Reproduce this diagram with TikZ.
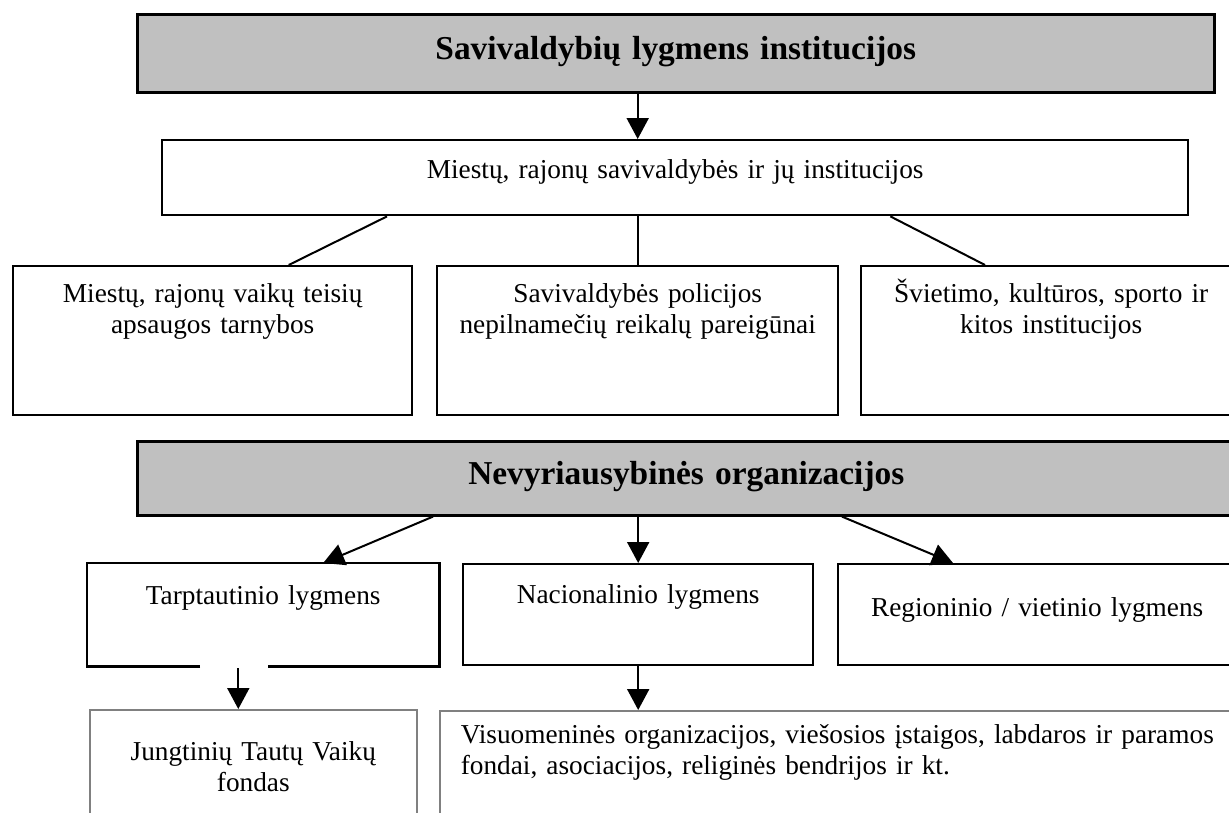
\documentclass[tikz,border=0pt]{standalone}
\usepackage{fontspec}
\setmainfont{Liberation Serif}
\usepackage{tikz}
\usetikzlibrary{arrows.meta,calc}

\definecolor{hdrgray}{RGB}{192,192,192}
\definecolor{lowline}{RGB}{128,128,128}
\newcommand{\boxfont}{\fontsize{27.3}{31}\selectfont}
\newcommand{\headfont}{\fontsize{33.4}{38}\selectfont\bfseries}

\tikzset{
  box/.style={draw, line width=2.4pt, inner sep=0pt, anchor=north west, align=center, font=\boxfont},
  headbox/.style={box, line width=2.6pt, fill=hdrgray, font=\headfont},
  lowbox/.style={box, draw=lowline, line width=1.6pt},
  conn/.style={line width=2pt},
  arr/.style={conn, -{Triangle[length=21pt,width=22pt]}}
}

\begin{document}
\begin{tikzpicture}[x=1pt,y=-1pt]
\useasboundingbox (0,0) rectangle (1229,812);
\clip (0,0) rectangle (1229,812);

% Municipal level
\node[headbox, text width=1077pt, text height=45pt, text depth=33pt] (sav) at (136,13) {Savivaldybių lygmens institucijos};
\node[box, text width=1026pt, text height=38pt, text depth=37pt] (mies) at (161,139) {Miestų, rajonų savivaldybės ir jų institucijos};

\node[box, text width=399pt, text height=36pt, text depth=113pt] (vtt) at (12,265) {Miestų, rajonų vaikų teisių\\apsaugos tarnybos};
\node[box, text width=401pt, text height=36pt, text depth=113pt] (pol) at (436,265) {Savivaldybės policijos\\nepilnamečių reikalų pareigūnai};
\node[box, text width=380pt, text height=36pt, text depth=113pt] (svi) at (860,265) {Švietimo, kultūros, sporto ir\\kitos institucijos};

% Non-governmental level
\node[headbox, text width=1098pt, text height=43pt, text depth=31pt] (nev) at (136,440) {Nevyriausybinės organizacijos};

\node[box, draw=none, text width=350pt, text height=40pt, text depth=61pt] (tarp) at (87,563) {Tarptautinio lygmens};
\node[box, text width=350pt, text height=39pt, text depth=62pt] (nac) at (462,563) {Nacionalinio lygmens};
\node[box, text width=398pt, text height=52pt, text depth=49pt] (reg) at (837,563) {Regioninio / vietinio lygmens};

\node[lowbox, text width=327pt, text height=51pt, text depth=90pt] (jtv) at (89,709) {Jungtinių Tautų Vaikų\\fondas};
\node[lowbox, align=left, inner xsep=21pt, text width=780pt, text height=33pt, text depth=107pt] (vis) at (439,710) {Visuomeninės organizacijos, viešosios įstaigos, labdaros ir paramos\\fondai, asociacijos, religinės bendrijos ir kt.};

% outline of tarp with the gap in its lower edge
\draw[line width=2.4pt] ($(tarp.south west)+(113,0)$) -| (tarp.north west) -| (tarp.south east) -- ++(-171,0);

% Connectors
\draw[arr] (sav.south -| pol.north) -- (mies.north -| pol.north);
\draw[conn] ($(mies.south west)+(226,0)$) -- ($(vtt.north)+(76,0)$);
\draw[conn] (mies.south -| pol.north) -- (pol.north);
\draw[conn] ($(mies.south east)+(-299,0)$) -- ($(svi.north west)+(125,0)$);

\draw[arr] ($(nev.south west)+(297,0)$) -- ($(tarp.north)+(60,0)$);
\draw[arr] (nev.south -| nac.north) -- (nac.north);
\draw[arr] ($(nev.south west)+(706,0)$) -- ($(reg.north west)+(116,0)$);

\coordinate (jtvin) at ($(jtv.north)+(-15,0)$);
\draw[arr] ($(tarp.south -| jtvin)+(0,2)$) -- (jtvin);
\draw[arr] (nac.south) -- (vis.north -| nac.south);
\end{tikzpicture}
\end{document}
